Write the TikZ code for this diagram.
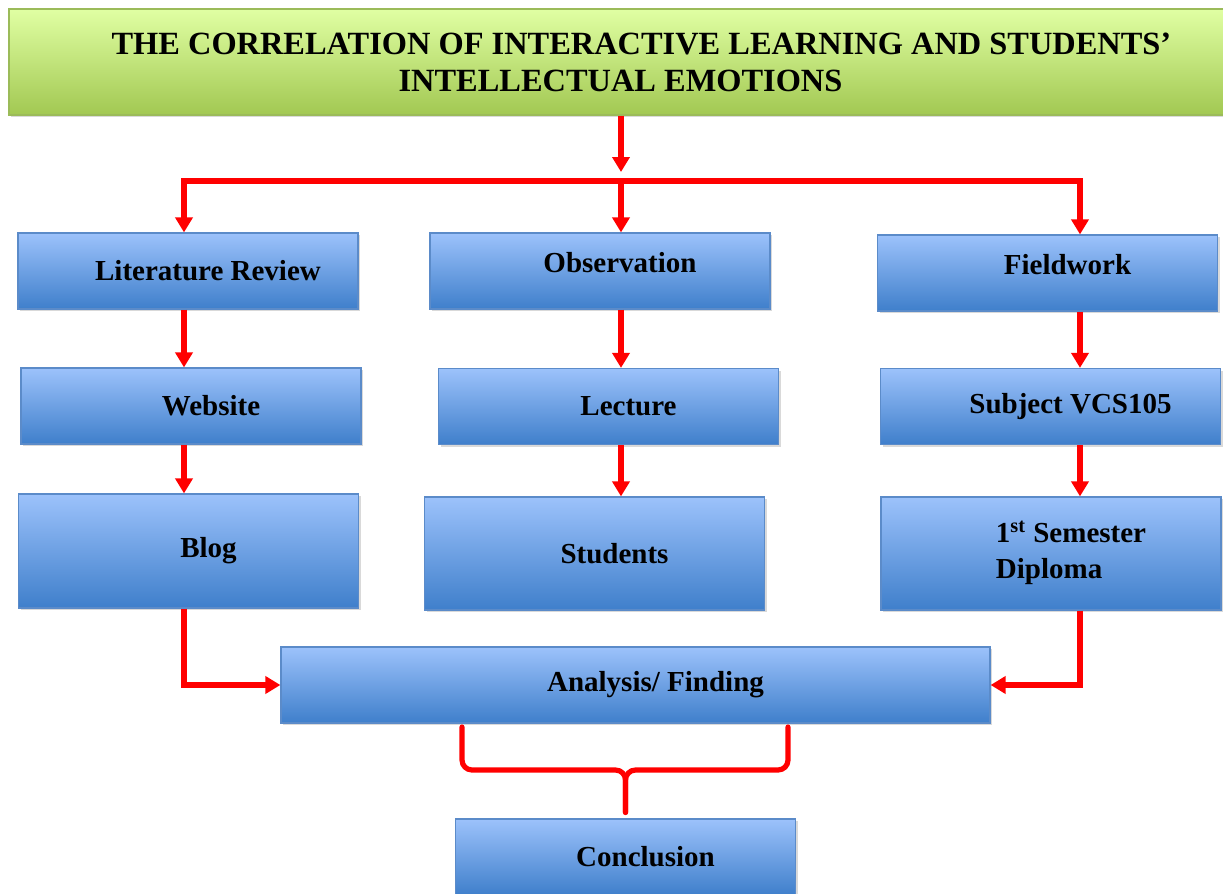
\documentclass[tikz,border=0pt]{standalone}
\usepackage{fontspec}
\setmainfont{Liberation Serif}
\usepackage{tikz}
\usetikzlibrary{arrows.meta,shadows}
\definecolor{boxtop}{HTML}{9CC2FB}
\definecolor{boxbottom}{HTML}{3F7FCB}
\definecolor{boxline}{HTML}{5B8BC9}
\definecolor{titletop}{HTML}{E0FFA3}
\definecolor{titlebottom}{HTML}{A2C852}
\definecolor{titleline}{HTML}{9BBB59}
\tikzstyle{stage} = [draw=boxline, line width=0.6pt, top color=boxtop, bottom color=boxbottom,
    rectangle, inner sep=0pt, minimum width=170pt, minimum height=38pt,
    font=\bfseries\fontsize{14.5}{18}\selectfont,
    drop shadow={shadow xshift=1.2pt, shadow yshift=-1.2pt, opacity=0.3},
    execute at begin node={\hspace{20pt}}]
\tikzstyle{headbox} = [draw=titleline, line width=0.6pt, top color=titletop, bottom color=titlebottom,
    rectangle, inner sep=0pt, align=center, font=\bfseries\fontsize{16.2}{18.5}\selectfont,
    drop shadow={shadow xshift=1.2pt, shadow yshift=-1.2pt, opacity=0.3}]
\tikzstyle{redline} = [draw=red, line width=2.6pt]
\tikzstyle{redarrow} = [redline, -{Triangle[width=8.5pt,length=7.5pt]}]

\begin{document}
\begin{tikzpicture}[x=0.5pt, y=-0.5pt]
\useasboundingbox (0,0) rectangle (1223,894);
\node[headbox, minimum width=611.5pt, minimum height=53pt] (title) at (620.5,62)
    {\hspace*{21pt}THE CORRELATION OF INTERACTIVE LEARNING AND STUDENTS’\\INTELLECTUAL EMOTIONS};
\node[stage] (lit) at (188,271) {Literature Review};
\node[stage, text depth=9pt] (obs) at (600,271) {Observation};
\node[stage, text depth=9pt] (field) at (1047.5,273) {Fieldwork};
\node[stage] (web) at (191,406) {Website};
\node[stage] (lec) at (608.5,406.5) {Lecture};
\node[stage] (subj) at (1050.5,406.5) {Subject VCS105};
\node[stage, minimum height=57pt] (blog) at (188.5,551) {Blog};
\node[stage, minimum height=56.5pt] (stu) at (594.5,553.5) {Students};
\node[stage, minimum height=56.5pt] (dipl) at (1051,553.5)
    {\begin{tabular}{@{}l@{}}1\textsuperscript{st} Semester\\Diploma\end{tabular}};
\node[stage, minimum width=354.5pt] (ana) at (635.5,685) {Analysis/ Finding};
\node[stage] (conc) at (625.5,857) {Conclusion};

\coordinate (colA) at (184,181);
\coordinate (colB) at (621,181);
\coordinate (colC) at (1080,181);
\draw[redarrow] (title.south -| colB) -- ([yshift=4.5pt]colB);
\draw[redarrow] (colB) -| (colA |- lit.north);
\draw[redarrow] (colB) -| (colC |- field.north);
\draw[redarrow] (colB) -- (colB |- obs.north);
\draw[redarrow] (lit.south -| colA) -- (web.north -| colA);
\draw[redarrow] (web.south -| colA) -- (blog.north -| colA);
\draw[redarrow] (obs.south -| colB) -- (lec.north -| colB);
\draw[redarrow] (lec.south -| colB) -- (stu.north -| colB);
\draw[redarrow] (field.south -| colC) -- (subj.north -| colC);
\draw[redarrow] (subj.south -| colC) -- (dipl.north -| colC);
\draw[redarrow] (blog.south -| colA) |- (ana.west);
\draw[redarrow] (dipl.south -| colC) |- (ana.east);

\coordinate (bl) at (462,727);
\coordinate (br) at (788,727);
\coordinate (bm) at (625.5,770);
\draw[redline, line cap=round, rounded corners=5pt] (bl) |- (bm) -- ([yshift=3pt]conc.north);
\draw[redline, line cap=round, rounded corners=5pt] (br) |- (bm) -- ([yshift=3pt]conc.north);
\end{tikzpicture}
\end{document}
